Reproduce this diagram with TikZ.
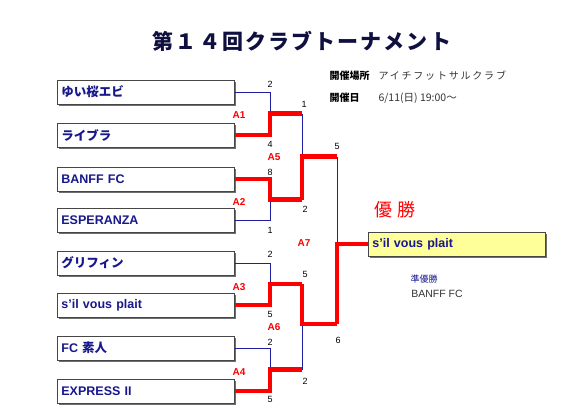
\documentclass[tikz,border=0pt]{standalone}
\usepackage{fontspec}
\setmainfont{Liberation Sans}
\newfontfamily\jp{Noto Sans CJK JP}
\usetikzlibrary{shadows}
\definecolor{navy}{RGB}{24,24,140}
\definecolor{titlenavy}{RGB}{16,16,64}
\definecolor{lineblue}{RGB}{30,30,160}
\definecolor{winred}{RGB}{255,0,0}
\definecolor{boxgray}{RGB}{70,70,70}
\definecolor{champyellow}{RGB}{255,255,153}
\tikzset{
  team/.style={rectangle, draw=boxgray, fill=white, line width=0.8pt,
    text width=169pt, inner xsep=4pt, inner ysep=0pt, minimum height=24pt,
    align=left, anchor=west, text=navy,
    font=\bfseries\fontsize{12.5}{14}\selectfont,
    drop shadow={shadow xshift=1.6pt, shadow yshift=-1.6pt, fill=black!70, opacity=0.8}},
  champbox/.style={team, fill=champyellow},
  score/.style={font=\fontsize{9}{10}\selectfont, inner sep=0pt},
  matchlbl/.style={font=\bfseries\fontsize{10}{12}\selectfont, text=winred, inner sep=0pt},
  loser/.style={draw=lineblue, line width=1pt},
  winner/.style={draw=winred, line width=4.5pt}
}
\begin{document}
\begin{tikzpicture}[x=1pt, y=-1pt]
  \fill[white] (0,0) rectangle (570,412);
  \useasboundingbox (0,0) rectangle (570,412);

  % title and info
  \node[text=titlenavy, font=\jp\bfseries\fontsize{21}{24}\selectfont\addfontfeature{LetterSpace=10}] (title) at (302,41)
    {第１４回クラブトーナメント};
  \node[anchor=west, font=\jp\bfseries\fontsize{10}{12}\selectfont] (placehd) at (326,76) {開催場所};
  \node[anchor=west, text=black!80, font=\jp\fontsize{10}{12}\selectfont\addfontfeature{LetterSpace=18}] (place) at (375,76) {アイチフットサルクラブ};
  \node[anchor=west, font=\jp\bfseries\fontsize{10}{12}\selectfont] (datehd) at (326,98) {開催日};
  \node[anchor=west, text=black!80, font=\jp\fontsize{10.5}{12}\selectfont] (date) at (375,98) {6/11(日) 19:00～};

  % teams
  \node[team] (t1) at (57,92) {{\jp ゆい桜エビ}};
  \node[team] (t2) at (57,135) {{\jp ライブラ}};
  \node[team] (t3) at (57,179) {BANFF FC};
  \node[team] (t4) at (57,220) {ESPERANZA};
  \node[team] (t5) at (57,263) {{\jp グリフィン}};
  \node[team] (t6) at (57,305) {s'il vous plait};
  \node[team] (t7) at (57,348) {FC {\jp 素人}};
  \node[team] (t8) at (57,391) {EXPRESS II};
  \node[champbox] (champ) at (368,244) {s'il vous plait};

  % junctions
  \coordinate (m1) at (270,113.5); \coordinate (o1) at (302,113.5);
  \coordinate (m2) at (270,199.5); \coordinate (o2) at (302,199.5);
  \coordinate (m3) at (270,284);   \coordinate (o3) at (302,284);
  \coordinate (m4) at (270,369.5); \coordinate (o4) at (302,369.5);
  \coordinate (m5) at (302,156.5); \coordinate (o5) at (337,156.5);
  \coordinate (m6) at (302,324);   \coordinate (o6) at (337,324);
  \coordinate (m7) at (337,244);

  % losing side
  \draw[loser] (t1.east) -| (m1);
  \draw[loser] (t4.east) -| (m2);
  \draw[loser] (t5.east) -| (m3);
  \draw[loser] (t7.east) -| (m4);
  \draw[loser] (o1) -- (m5);
  \draw[loser] (o4) -- (m6);
  \draw[loser] (o5) -- (m7);

  % winning side
  \draw[winner] (t2.east) -| (m1) -- (o1);
  \draw[winner] (t3.east) -| (m2) -- (o2);
  \draw[winner] (t6.east) -| (m3) -- (o3);
  \draw[winner] (t8.east) -| (m4) -- (o4);
  \draw[winner] (o2) -- (m5) -- (o5);
  \draw[winner] (o3) -- (m6) -- (o6);
  \draw[winner] (o6) -- (m7) -- (champ.west);

  % scores
  \node[score] (s1) at (270,84) {2};
  \node[score] (s2) at (270,144) {4};
  \node[score] (s3) at (270,172) {8};
  \node[score] (s4) at (270,230) {1};
  \node[score] (s5) at (270,254) {2};
  \node[score] (s6) at (270,314) {5};
  \node[score] (s7) at (270,342) {2};
  \node[score] (s8) at (270,399) {5};
  \node[score] (s9) at (304,104) {1};
  \node[score] (s10) at (305,209) {2};
  \node[score] (s11) at (305,274) {5};
  \node[score] (s12) at (305,381) {2};
  \node[score] (s13) at (337,146) {5};
  \node[score] (s14) at (338,340) {6};

  % match labels
  \node[matchlbl] (a1) at (239,115) {A1};
  \node[matchlbl] (a2) at (239,202) {A2};
  \node[matchlbl] (a3) at (239,287) {A3};
  \node[matchlbl] (a4) at (239,372) {A4};
  \node[matchlbl] (a5) at (274,157) {A5};
  \node[matchlbl] (a6) at (274,327) {A6};
  \node[matchlbl] (a7) at (304,243) {A7};

  % result
  \node[text=winred, font=\jp\fontsize{18}{20}\selectfont] (win) at (395,210) {優 勝};
  \node[text=navy, font=\jp\fontsize{9}{10}\selectfont] (runhd) at (424,279) {準優勝};
  \node[text=black!80, font=\fontsize{10.5}{12}\selectfont] (runner) at (437,294) {BANFF FC};
\end{tikzpicture}
\end{document}
